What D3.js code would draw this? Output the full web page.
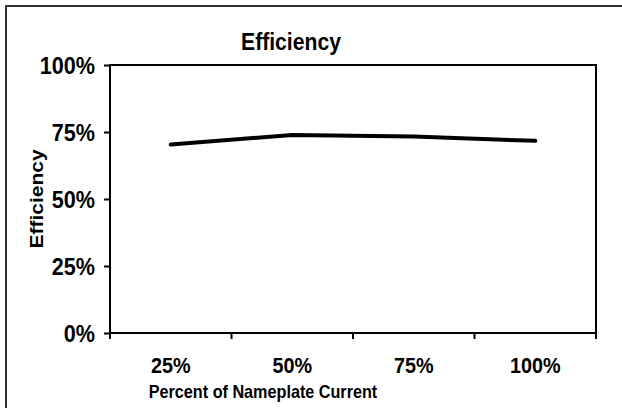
<!DOCTYPE html>
<html>
<head>
<meta charset="utf-8">
<script src="https://cdn.jsdelivr.net/npm/d3@7"></script>
<style>
  body { margin: 0; background: #fff; }
  text { font-family: "Liberation Sans", Arial, sans-serif; font-weight: bold; fill: #000; }
</style>
</head>
<body>
<div id="chart"></div>
<script>
// data
var categories = ["25%", "50%", "75%", "100%"];
var efficiency = [0.703, 0.739, 0.733, 0.717];
var yTicks = [0, 0.25, 0.5, 0.75, 1];

var width = 622, height = 408;
var margin = { top: 65, right: 26, bottom: 75, left: 110 };
var plotW = width - margin.left - margin.right;
var plotH = height - margin.top - margin.bottom;
var squeeze = 0.9; // the source picture is a little narrower than tall

var svg = d3.select("#chart")
    .append("svg")
    .attr("width", width)
    .attr("height", height);

// outer chart frame (cropped at right / bottom)
svg.append("rect")
    .attr("x", 6)
    .attr("y", 6)
    .attr("width", width + 20)
    .attr("height", height + 20)
    .style("fill", "none")
    .style("stroke", "#333")
    .style("stroke-width", 2);

var x = d3.scaleBand().domain(categories).range([0, plotW]);
var y = d3.scaleLinear().domain([0, 1]).range([plotH, 0]);

var g = svg.append("g")
    .attr("transform", "translate(" + margin.left + "," + margin.top + ")");

// plot box
g.append("rect")
    .attr("width", plotW)
    .attr("height", plotH)
    .style("fill", "none")
    .style("stroke", "#000")
    .style("stroke-width", 2);

var yAxis = g.append("g")
    .call(d3.axisLeft(y).tickValues(yTicks).tickFormat(d3.format(".0%")).tickSize(6).tickPadding(8));
yAxis.select(".domain").remove();
yAxis.selectAll(".tick line").style("stroke", "#000").style("stroke-width", 2);
yAxis.selectAll("text")
    .attr("x", -15 / squeeze)
    .attr("dy", "0.36em")
    .attr("transform", "scale(" + squeeze + ",1)")
    .style("font-size", "24px");

// x ticks sit on band edges
var edges = categories.map(function (c) { return x(c); }).concat([plotW]);
g.append("g")
    .attr("class", "xticks")
    .selectAll("line")
    .data(edges)
    .enter()
    .append("line")
    .attr("x1", function (d) { return d; })
    .attr("x2", function (d) { return d; })
    .attr("y1", plotH)
    .attr("y2", plotH + 6)
    .style("stroke", "#000")
    .style("stroke-width", 2);

g.append("g")
    .selectAll("text")
    .data(categories)
    .enter()
    .append("text")
    .attr("transform", function (d) {
        return "translate(" + (x(d) + x.bandwidth() / 2) + "," + (plotH + 40) + ") scale(" + squeeze + ",1)";
    })
    .attr("text-anchor", "middle")
    .style("font-size", "22px")
    .text(function (d) { return d; });

var line = d3.line()
    .x(function (d, i) { return x(categories[i]) + x.bandwidth() / 2; })
    .y(function (d) { return y(d); });

g.append("path")
    .datum(efficiency)
    .attr("d", line)
    .style("fill", "none")
    .style("stroke", "#000")
    .style("stroke-width", 4)
    .style("stroke-linejoin", "round")
    .style("stroke-linecap", "round");

svg.append("text")
    .attr("transform", "translate(291,50) scale(" + squeeze + ",1)")
    .attr("text-anchor", "middle")
    .style("font-size", "23.5px")
    .text("Efficiency");

svg.append("text")
    .attr("transform", "translate(263,398) scale(" + squeeze + ",1)")
    .attr("text-anchor", "middle")
    .style("font-size", "18px")
    .text("Percent of Nameplate Current");

svg.append("text")
    .attr("transform", "translate(43," + (margin.top + plotH / 2) + ") scale(" + squeeze + ",1) rotate(-90)")
    .attr("text-anchor", "middle")
    .style("font-size", "21px")
    .text("Efficiency");
</script>
</body>
</html>
